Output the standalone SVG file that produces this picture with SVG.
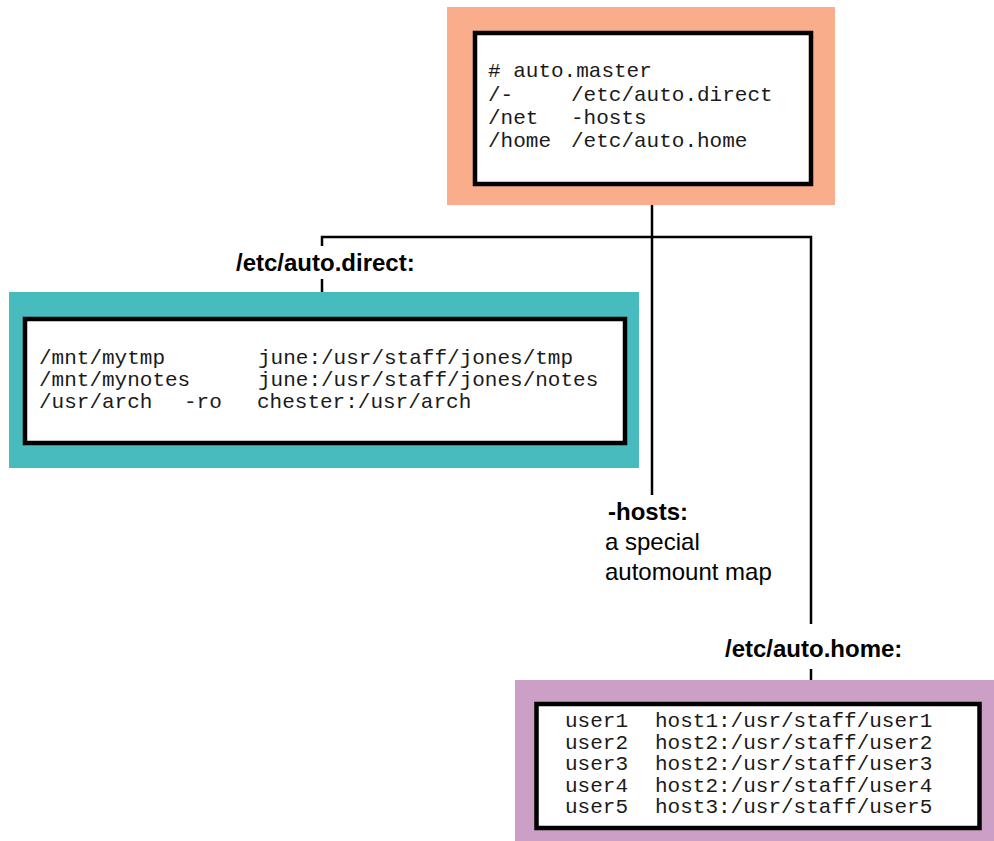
<svg xmlns="http://www.w3.org/2000/svg" width="994" height="841" viewBox="0 0 994 841">
<style>
.mono{font-family:"Liberation Mono","DejaVu Sans Mono",monospace;font-size:21px;fill:#1a1a1a}
.lbl{font-family:"Liberation Sans",Arial,sans-serif;font-size:24px;fill:#000}
.b{font-weight:bold}
.box{fill:#fff;stroke:#000;stroke-width:4.5}
.conn{stroke:#000;stroke-width:2.5;fill:none}
</style>
<rect width="994" height="841" fill="#fff"/>
<g id="connectors">
<path class="conn" d="M652 186V495"/>
<path class="conn" d="M322 246V237H811V624"/>
<path class="conn" d="M322 279V317"/>
<path class="conn" d="M811 669V703"/>
</g>
<g id="auto-master">
<rect x="447" y="7" width="388" height="198" fill="#F9AD8B"/>
<rect class="box" x="475" y="33" width="336" height="151"/>
<text class="mono" x="488" y="77"># auto.master</text>
<text class="mono" x="488" y="101">/-</text>
<text class="mono" x="571" y="101">/etc/auto.direct</text>
<text class="mono" x="488" y="124">/net</text>
<text class="mono" x="571" y="124">-hosts</text>
<text class="mono" x="488" y="147">/home</text>
<text class="mono" x="571" y="147">/etc/auto.home</text>
</g>
<g id="auto-direct">
<text class="lbl b" x="236" y="271">/etc/auto.direct:</text>
<rect x="9" y="292" width="630" height="176" fill="#47BBBD"/>
<rect class="box" x="25" y="319" width="600" height="124"/>
<text class="mono" x="39" y="364">/mnt/mytmp</text>
<text class="mono" x="258" y="364">june:/usr/staff/jones/tmp</text>
<text class="mono" x="39" y="386">/mnt/mynotes</text>
<text class="mono" x="258" y="386">june:/usr/staff/jones/notes</text>
<text class="mono" x="39" y="408">/usr/arch</text>
<text class="mono" x="184" y="408">-ro</text>
<text class="mono" x="257" y="408">chester:/usr/arch</text>
</g>
<g id="hosts">
<text class="lbl b" x="608" y="520">-hosts:</text>
<text class="lbl" x="605" y="550">a special</text>
<text class="lbl" x="605" y="580">automount map</text>
</g>
<g id="auto-home">
<text class="lbl b" x="725" y="657">/etc/auto.home:</text>
<rect x="515" y="680" width="479" height="161" fill="#CC9FC6"/>
<rect class="box" x="536.5" y="704" width="443" height="124"/>
<text class="mono" x="565" y="727">user1</text>
<text class="mono" x="655" y="727">host1:/usr/staff/user1</text>
<text class="mono" x="565" y="748.5">user2</text>
<text class="mono" x="655" y="748.5">host2:/usr/staff/user2</text>
<text class="mono" x="565" y="770">user3</text>
<text class="mono" x="655" y="770">host2:/usr/staff/user3</text>
<text class="mono" x="565" y="791.5">user4</text>
<text class="mono" x="655" y="791.5">host2:/usr/staff/user4</text>
<text class="mono" x="565" y="813">user5</text>
<text class="mono" x="655" y="813">host3:/usr/staff/user5</text>
</g>
</svg>
